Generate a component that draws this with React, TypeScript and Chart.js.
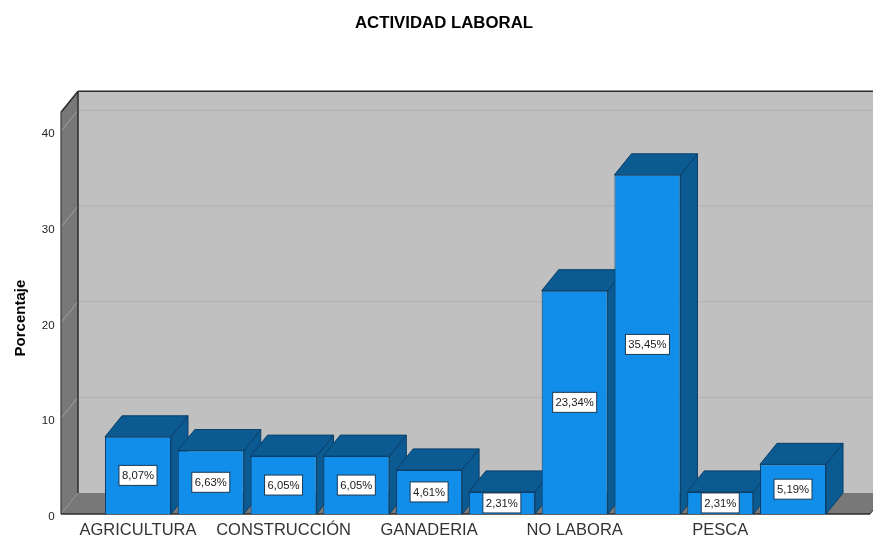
import React, { useEffect, useRef } from "react";
import { Chart, registerables } from "chart.js";

Chart.register(...registerables);

const chartTitle = "ACTIVIDAD LABORAL";
const axisTitle = "Porcentaje";
// Only every second category name is legible in the picture.
const categories = ["AGRICULTURA", "", "CONSTRUCCIÓN", "", "GANADERIA", "", "NO LABORA", "", "PESCA", ""];
const percentages = [8.07, 6.63, 6.05, 6.05, 4.61, 2.31, 23.34, 35.45, 2.31, 5.19];

const FONT = "'Liberation Sans', Arial, sans-serif";
const DX = 17;
const DY = 21;
const SIDE_PAD = 40.6;

const threeD = {
  id: "threeD",
  afterLayout(chart: any) {
    const t = chart.titleBlock;
    if (t) {
      t.left += 29.3;
      t.right += 29.3;
    }
    const s = chart.scales.y;
    if (!s.__shifted) {
      s.__shifted = true;
      const orig = s.drawTitle;
      s.drawTitle = function () {
        const top = s.top;
        s.top = top + 10;
        orig.call(s);
        s.top = top;
      };
    }
  },
  beforeDatasetsDraw(chart: any) {
    const { ctx, chartArea, scales } = chart;
    const y = scales.y;
    const l = chartArea.left - SIDE_PAD;
    const r = chartArea.right + SIDE_PAD;
    const t = chartArea.top;
    const b = chartArea.bottom;
    const poly = (pts: number[][], fill?: string, stroke?: string, lw = 1) => {
      ctx.beginPath();
      pts.forEach((p, i) => (i ? ctx.lineTo(p[0], p[1]) : ctx.moveTo(p[0], p[1])));
      ctx.closePath();
      if (fill) {
        ctx.fillStyle = fill;
        ctx.fill();
      }
      if (stroke) {
        ctx.strokeStyle = stroke;
        ctx.lineWidth = lw;
        ctx.stroke();
      }
    };
    const line = (x1: number, y1: number, x2: number, y2: number, c: string, lw: number) => {
      ctx.beginPath();
      ctx.moveTo(x1, y1);
      ctx.lineTo(x2, y2);
      ctx.strokeStyle = c;
      ctx.lineWidth = lw;
      ctx.stroke();
    };
    ctx.save();
    // back wall, left wall, floor
    poly([[l + DX, t - DY], [r + DX, t - DY], [r + DX, b - DY], [l + DX, b - DY]], "#c0c0c0");
    poly([[l, t], [l + DX, t - DY], [l + DX, b - DY], [l, b]], "#787878");
    poly([[l, b], [l + DX, b - DY], [r + DX, b - DY], [r, b]], "#787878");
    // grid lines
    y.ticks.forEach((tk: any) => {
      if (tk.value === 0) return;
      const py = y.getPixelForValue(tk.value);
      line(l, py, l + DX, py - DY, "#a0a0a0", 1);
      line(l + DX, py - DY, r + DX, py - DY, "#b2b2b2", 1.2);
    });
    // outlines
    line(l + DX, t - DY, r + DX, t - DY, "#2b2b2b", 1.5);
    line(l + DX, t - DY, l + DX, b - DY, "#2b2b2b", 1.5);
    line(l, t, l + DX, t - DY, "#2b2b2b", 1.5);
    line(l, t, l, b, "#3a3a3a", 1.2);
    line(l, b, r, b, "#2b2b2b", 1.5);
    line(r, b, r + DX, b - DY, "#2b2b2b", 1);
    // tops and sides of the bars
    chart.getDatasetMeta(0).data.forEach((bar: any) => {
      const p = bar.getProps(["x", "y", "base", "width"], true);
      const x0 = p.x - p.width / 2;
      const x1 = p.x + p.width / 2;
      const edge = "#0a3f68";
      poly([[x1, p.y], [x1 + DX, p.y - DY], [x1 + DX, p.base - DY], [x1, p.base]], "#0b5a92", edge);
      poly([[x0, p.y], [x0 + DX, p.y - DY], [x1 + DX, p.y - DY], [x1, p.y]], "#0b5a92", edge);
    });
    ctx.restore();
  },
  afterDatasetsDraw(chart: any) {
    const { ctx } = chart;
    const meta = chart.getDatasetMeta(0);
    ctx.save();
    ctx.font = `11.3px ${FONT}`;
    ctx.textAlign = "center";
    ctx.textBaseline = "middle";
    meta.data.forEach((bar: any, i: number) => {
      const p = bar.getProps(["x", "y", "base"], true);
      const cy = (p.y + p.base) / 2;
      const text = percentages[i].toFixed(2).replace(".", ",") + "%";
      const w = Math.round(ctx.measureText(text).width) + 6;
      const h = 20;
      ctx.fillStyle = "#ffffff";
      ctx.fillRect(p.x - w / 2, cy - h / 2, w, h);
      ctx.strokeStyle = "#1c3a52";
      ctx.lineWidth = 1;
      ctx.strokeRect(p.x - w / 2, cy - h / 2, w, h);
      ctx.fillStyle = "#1a1a1a";
      ctx.fillText(text, p.x, cy + 0.5);
    });
    ctx.restore();
  },
};

export default function App() {
  const ref = useRef<HTMLCanvasElement>(null);
  useEffect(() => {
    document.body.style.margin = "0";
    const chart = new Chart(ref.current as HTMLCanvasElement, {
      type: "bar",
      data: {
        labels: categories,
        datasets: [
          {
            label: "Porcentaje",
            data: percentages,
            backgroundColor: "#118dea",
            borderColor: "#0a3f68",
            borderWidth: 1,
            barPercentage: 0.907,
            categoryPercentage: 1,
          },
        ],
      },
      options: {
        responsive: false,
        animation: false,
        layout: { padding: { left: 0, right: 43.6, top: 0, bottom: 0 } },
        plugins: {
          legend: { display: false },
          tooltip: { enabled: false },
          title: {
            display: true,
            text: chartTitle,
            color: "#000000",
            font: { family: FONT, size: 16.8, weight: "bold" },
            padding: { top: 13, bottom: 79 },
          },
        },
        scales: {
          x: {
            afterFit: (s: any) => {
              s.height = 24;
            },
            grid: { display: false, drawTicks: false },
            border: { display: false },
            ticks: {
              autoSkip: false,
              maxRotation: 0,
              minRotation: 0,
              padding: 7,
              color: "#333333",
              font: { family: FONT, size: 16.5 },
            },
          },
          y: {
            min: 0,
            max: 42,
            afterBuildTicks: (s: any) => {
              s.ticks = s.ticks.filter((t: any) => t.value % 10 === 0);
            },
            afterFit: (s: any) => {
              s.width = 101.6;
              s.paddingTop = 0;
              s.paddingBottom = 0;
            },
            grid: { display: false, drawTicks: false },
            border: { display: false },
            title: {
              display: true,
              text: axisTitle,
              color: "#000000",
              font: { family: FONT, size: 15, weight: "bold" },
              padding: { top: 12, bottom: 0 },
            },
            ticks: {
              stepSize: 10,
              padding: 47,
              labelOffset: 3,
              color: "#222222",
              font: { family: FONT, size: 11.5 },
            },
          },
        },
      },
      plugins: [threeD],
    } as any);
    return () => chart.destroy();
  }, []);
  return <canvas ref={ref} width={873} height={538} style={{ display: "block" }} />;
}
